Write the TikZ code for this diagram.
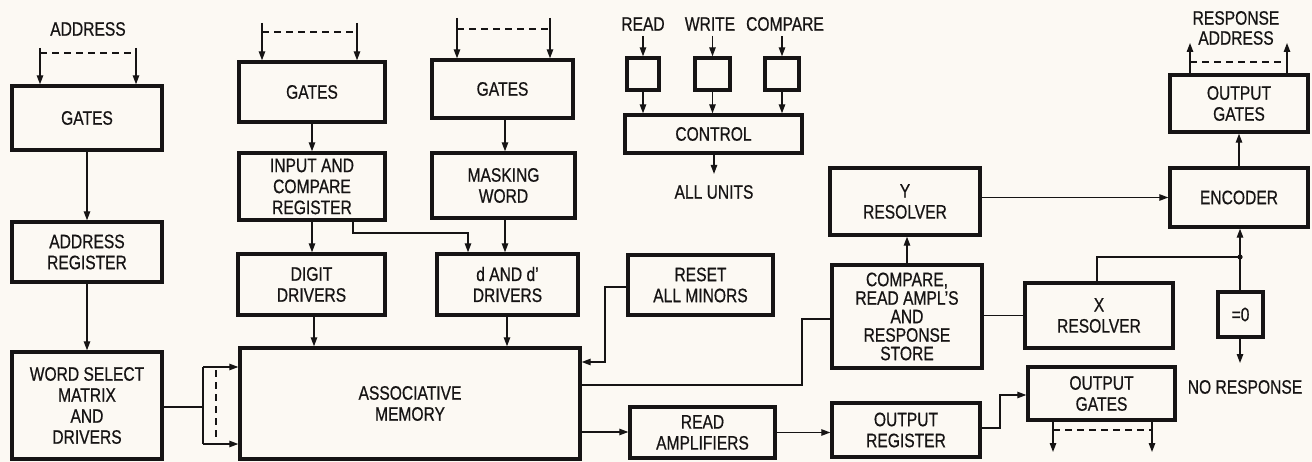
\documentclass[tikz,border=0pt]{standalone}
\usepackage{fontspec}
\setmainfont{Liberation Sans}[FakeStretch=0.8,FakeBold=0.6]
\usetikzlibrary{arrows.meta,calc}
\definecolor{bg}{RGB}{252,249,243}
\definecolor{ink}{RGB}{22,20,20}
\begin{document}
\begin{tikzpicture}[x=1pt,y=-1pt,
  box/.style={draw=ink, line width=3.4pt, align=center, inner sep=0pt, text=ink, font=\fontsize{19.5}{21}\selectfont},
  lab/.style={align=center, inner sep=0pt, text=ink, font=\fontsize{19.5}{20}\selectfont},
  arr/.style={draw=ink, line width=1.3pt, -{Triangle[length=9pt,width=6.5pt]}},
  ln/.style={draw=ink, line width=1.3pt},
  dsh/.style={draw=ink, line width=1.2pt, dash pattern=on 7pt off 5pt}]
\fill[bg] (0,0) rectangle (1312,462);
\useasboundingbox (0,0) rectangle (1312,462);

% ---- boxes
\node[box, minimum width=150pt, minimum height=64pt] (gA) at (87,118) {GATES};
\node[box, minimum width=150pt, minimum height=60pt] (areg) at (87,252) {ADDRESS\\REGISTER};
\node[box, minimum width=150pt, minimum height=107pt] (ws) at (87,405.5) {WORD SELECT\\MATRIX\\AND\\DRIVERS};
\node[box, minimum width=146pt, minimum height=60pt] (gB) at (312,92) {GATES};
\node[box, minimum width=146pt, minimum height=67pt] (icr) at (312,186.5) {INPUT AND\\COMPARE\\REGISTER};
\node[box, minimum width=147pt, minimum height=61pt] (dd) at (311.5,284.5) {DIGIT\\DRIVERS};
\node[box, minimum width=141pt, minimum height=58pt] (gC) at (502.5,89) {GATES};
\node[box, minimum width=143pt, minimum height=65pt] (mw) at (503.5,185.5) {MASKING\\WORD};
\node[box, minimum width=141pt, minimum height=61pt] (ddd) at (507.5,284.5) {d AND d'\\DRIVERS};
\node[box, minimum width=340pt, minimum height=111pt] (am) at (410,403.5) {ASSOCIATIVE\\MEMORY};
\node[box, minimum width=145pt, minimum height=60pt] (reset) at (700.5,285) {RESET\\ALL MINORS};
\node[box, minimum width=145pt, minimum height=51pt] (ra) at (702.5,432.5) {READ\\AMPLIFIERS};
\node[box, minimum width=177pt, minimum height=38pt] (ctrl) at (713.5,134) {CONTROL};
\node[box, minimum width=32pt, minimum height=32pt] (rd) at (643,74) {};
\node[box, minimum width=35pt, minimum height=32pt] (wr) at (712.5,74) {};
\node[box, minimum width=34pt, minimum height=32pt] (cp) at (782,74) {};
\node[box, minimum width=150pt, minimum height=67pt] (yres) at (905,201.5) {Y\\RESOLVER};
\node[box, minimum width=150pt, minimum height=103pt, font=\fontsize{19.5}{18.5}\selectfont] (cmp) at (907,316.5) {COMPARE,\\READ AMPL'S\\AND\\RESPONSE\\STORE};
\node[box, minimum width=148pt, minimum height=54pt] (oreg) at (906,430) {OUTPUT\\REGISTER};
\node[box, minimum width=148pt, minimum height=65pt] (xres) at (1099,315.5) {X\\RESOLVER};
\node[box, minimum width=45pt, minimum height=45pt] (zero) at (1240.5,314.5) {=0};
\node[box, minimum width=147pt, minimum height=53pt] (ogB) at (1101.5,393.5) {OUTPUT\\GATES};
\node[box, minimum width=138pt, minimum height=59pt] (enc) at (1239,197.5) {ENCODER};
\node[box, minimum width=138pt, minimum height=57pt] (ogT) at (1239,103.5) {OUTPUT\\GATES};

% ---- labels
\node[lab] (addr) at (88,29) {ADDRESS};
\node[lab] (lread) at (643,24) {READ};
\node[lab] (lwrite) at (710,24) {WRITE};
\node[lab] (lcomp) at (785,24) {COMPARE};
\node[lab] (allu) at (714,192) {ALL UNITS};
\node[lab] (nores) at (1245,387) {NO RESPONSE};
\node[lab] (resp) at (1236,28) {RESPONSE\\ADDRESS};

% ---- left column
\coordinate (a1) at (40,48); \coordinate (a2) at (136,48); \coordinate (a3) at (40,53);
\draw[arr] (a1) -- (a1 |- gA.north);
\draw[arr] (a2) -- (a2 |- gA.north);
\draw[dsh] (a3) -- (a3 -| a2);
\draw[arr] (gA) -- (areg);
\draw[arr] (areg) -- (ws);
\coordinate (bm) at (203,407); \coordinate (b1) at (203,367); \coordinate (b2) at (203,444);
\coordinate (b3) at (216,370); \coordinate (b4) at (216,441);
\draw[ln] (bm -| ws.east) -- (bm);
\draw[ln] (b1) -- (b2);
\draw[arr] (b1) -- (b1 -| am.west);
\draw[arr] (b2) -- (b2 -| am.west);
\draw[dsh] (b3) -- (b4);

% ---- second column
\coordinate (c1) at (262,23); \coordinate (c2) at (357,23); \coordinate (c3) at (262,32);
\draw[arr] (c1) -- (c1 |- gB.north);
\draw[arr] (c2) -- (c2 |- gB.north);
\draw[dsh] (c3) -- (c3 -| c2);
\draw[arr] (gB) -- (icr);
\draw[arr] (icr.south) -- (icr.south |- dd.north);
\coordinate (k1) at (353,233); \coordinate (k2) at (468,233);
\draw[arr] (k1 |- icr.south) -- (k1) -- (k2) -- (k2 |- ddd.north);
\coordinate (k3) at (314,0);
\draw[arr] (k3 |- dd.south) -- (k3 |- am.north);

% ---- third column
\coordinate (e1) at (457,18); \coordinate (e2) at (550,18); \coordinate (e3) at (457,29);
\draw[arr] (e1) -- (e1 |- gC.north);
\draw[arr] (e2) -- (e2 |- gC.north);
\draw[dsh] (e3) -- (e3 -| e2);
\coordinate (f1) at (505,0); \coordinate (f2) at (507,0);
\draw[arr] (f1 |- gC.south) -- (f1 |- mw.north);
\draw[arr] (f1 |- mw.south) -- (f1 |- ddd.north);
\draw[arr] (f2 |- ddd.south) -- (f2 |- am.north);

% ---- control
\draw[arr, shorten <=5pt] (lread.south) -- (rd.north);
\draw[arr, shorten <=5pt] (lwrite.south -| wr.north) -- (wr.north);
\draw[arr, shorten <=5pt] (lcomp.south -| cp.north) -- (cp.north);
\draw[arr] (rd) -- (rd |- ctrl.north);
\draw[arr] (wr) -- (wr |- ctrl.north);
\draw[arr] (cp) -- (cp |- ctrl.north);
\draw[arr, shorten >=11pt] (ctrl.south -| allu.north) -- (allu.north);

% ---- memory outputs
\coordinate (g1) at (605,287); \coordinate (g2) at (605,362);
\draw[arr] (g1 -| reset.west) -- (g1) -- (g2) -- (g2 -| am.east);
\coordinate (h1) at (802,385); \coordinate (h2) at (802,319);
\draw[ln] (h1 -| am.east) -- (h1) -- (h2) -- (h2 -| cmp.west);
\coordinate (m1) at (600,432);
\draw[arr] (m1 -| am.east) -- (m1 -| ra.west);
\draw[arr] (ra.east) -- (ra.east -| oreg.west);
\coordinate (p1) at (1000,428); \coordinate (p2) at (1000,395);
\draw[arr] (p1 -| oreg.east) -- (p1) -- (p2) -- (p2 -| ogB.west);
\coordinate (q1) at (1053,452); \coordinate (q2) at (1152,452); \coordinate (q3) at (1053,430);
\draw[arr] (q1 |- ogB.south) -- (q1);
\draw[arr] (q2 |- ogB.south) -- (q2);
\draw[dsh] (q3) -- (q3 -| q2);

% ---- resolvers and encoder
\draw[arr] (cmp.north) -- (cmp.north |- yres.south);
\draw[arr] (enc.west -| yres.east) -- (enc.west);
\draw[ln] (xres.west -| cmp.east) -- (xres.west);
\coordinate (j) at (1240,257); \coordinate (jx) at (1097,257);
\draw[ln] (jx |- xres.north) -- (jx) -- (j);
\draw[arr] (j) -- (j |- enc.south);
\draw[ln] (j) -- (j |- zero.north);
\fill[ink] (j) circle (2.6pt);
\coordinate (nr) at (1240,363);
\draw[arr] (j |- zero.south) -- (nr);
\draw[arr] (enc) -- (ogT);
\coordinate (s1) at (1190,43); \coordinate (s2) at (1287,43); \coordinate (s3) at (1190,62);
\draw[arr] (s1 |- ogT.north) -- (s1);
\draw[arr] (s2 |- ogT.north) -- (s2);
\draw[dsh] (s3) -- (s3 -| s2);
\end{tikzpicture}
\end{document}
